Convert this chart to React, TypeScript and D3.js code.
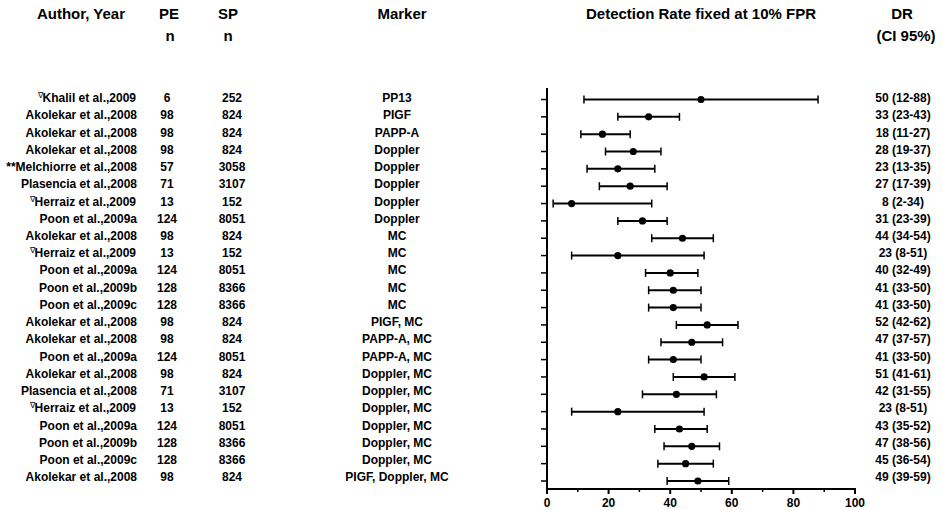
import React from "react";
import * as d3 from "d3";

const authors = [
  "Khalil et al.,2009", "Akolekar et al.,2008", "Akolekar et al.,2008", "Akolekar et al.,2008",
  "Melchiorre et al.,2008", "Plasencia et al.,2008", "Herraiz et al.,2009", "Poon et al.,2009a",
  "Akolekar et al.,2008", "Herraiz et al.,2009", "Poon et al.,2009a", "Poon et al.,2009b",
  "Poon et al.,2009c", "Akolekar et al.,2008", "Akolekar et al.,2008", "Poon et al.,2009a",
  "Akolekar et al.,2008", "Plasencia et al.,2008", "Herraiz et al.,2009", "Poon et al.,2009a",
  "Poon et al.,2009b", "Poon et al.,2009c", "Akolekar et al.,2008",
];
const prefixes = [
  "∇", "", "", "", "**", "", "∇", "", "", "∇", "", "", "", "", "", "", "", "", "∇", "", "", "", "",
];
const peN = [6, 98, 98, 98, 57, 71, 13, 124, 98, 13, 124, 128, 128, 98, 98, 124, 98, 71, 13, 124, 128, 128, 98];
const spN = [252, 824, 824, 824, 3058, 3107, 152, 8051, 824, 152, 8051, 8366, 8366, 824, 824, 8051, 824, 3107, 152, 8051, 8366, 8366, 824];
const markers = [
  "PP13", "PIGF", "PAPP-A", "Doppler", "Doppler", "Doppler", "Doppler", "Doppler",
  "MC", "MC", "MC", "MC", "MC", "PIGF, MC", "PAPP-A, MC", "PAPP-A, MC",
  "Doppler, MC", "Doppler, MC", "Doppler, MC", "Doppler, MC", "Doppler, MC", "Doppler, MC",
  "PIGF, Doppler, MC",
];
const dr = [50, 33, 18, 28, 23, 27, 8, 31, 44, 23, 40, 41, 41, 52, 47, 41, 51, 42, 23, 43, 47, 45, 49];
const lo = [12, 23, 11, 19, 13, 17, 2, 23, 34, 8, 32, 33, 33, 42, 37, 33, 41, 31, 8, 35, 38, 36, 39];
const hi = [88, 43, 27, 37, 35, 39, 34, 39, 54, 51, 49, 50, 50, 62, 57, 50, 61, 55, 51, 52, 56, 54, 59];
const xTicks = [0, 20, 40, 60, 80, 100];
const xMinorTicks = [10, 30, 50, 70, 90];

const FONT = "'Liberation Sans', Arial, Helvetica, sans-serif";

export default function App() {
  const idx = d3.range(dr.length);
  const x = d3.scaleLinear().domain([0, 100]).range([547, 855]);
  const y = d3.scalePoint<number>().domain(idx).range([99.5, 481]);
  const ty = d3.scalePoint<number>().domain(idx).range([98, 477]);
  const axisY = 489;
  const axisTop = 88;
  const base = (i: number) => (ty(i) as number) + 4.2;

  return (
    <svg
      width={943}
      height={510}
      style={{ position: "absolute", left: 0, top: 0, background: "#fff" }}
      fontFamily={FONT}
      fontWeight="bold"
    >
      {/* headers */}
      <g fontSize={15} textAnchor="middle" fill="#000">
        <text x={81} y={19}>Author, Year</text>
        <text x={169} y={19}>PE</text>
        <text x={170} y={41}>n</text>
        <text x={228} y={19}>SP</text>
        <text x={228} y={41}>n</text>
        <text x={402} y={19}>Marker</text>
        <text x={701} y={19}>Detection Rate fixed at 10% FPR</text>
        <text x={902} y={19}>DR</text>
        <text x={906} y={41}>(CI 95%)</text>
      </g>

      {/* table text */}
      <g fontSize={12} fill="#000">
        {idx.map((i) => (
          <g key={i}>
            {prefixes[i] === "∇" ? (
              <text x={136} y={base(i)} textAnchor="end">
                <tspan fontSize={8} fontWeight="normal" dy={-4}>∇</tspan>
                <tspan dy={4}>{authors[i]}</tspan>
              </text>
            ) : (
              <text x={137} y={base(i)} textAnchor="end">
                {prefixes[i] + authors[i]}
              </text>
            )}
            <text x={167} y={base(i)} textAnchor="middle">{peN[i]}</text>
            <text x={232} y={base(i)} textAnchor="middle">{spN[i]}</text>
            <text x={397} y={base(i)} textAnchor="middle">{markers[i]}</text>
            <text x={903} y={base(i)} textAnchor="middle">
              {`${dr[i]} (${lo[i]}-${hi[i]})`}
            </text>
          </g>
        ))}
      </g>

      {/* axes */}
      <g stroke="#000" fill="none">
        <line x1={x(0)} x2={x(0)} y1={axisTop} y2={axisY + 1} strokeWidth={2} />
        <line x1={x(0) - 1} x2={x(100) + 1} y1={axisY} y2={axisY} strokeWidth={2} />
        {idx.map((i) => (
          <line key={i} x1={x(0) - 6} x2={x(0)} y1={y(i)} y2={y(i)} strokeWidth={1.5} />
        ))}
        {xTicks.map((t) => (
          <line key={t} x1={x(t)} x2={x(t)} y1={axisY} y2={axisY + 5} strokeWidth={2} />
        ))}
        {xMinorTicks.map((t) => (
          <line key={t} x1={x(t)} x2={x(t)} y1={axisY} y2={axisY + 3} strokeWidth={1.5} />
        ))}
      </g>
      <g fontSize={12} textAnchor="middle" fill="#000">
        {xTicks.map((t) => (
          <text key={t} x={x(t)} y={507}>{t}</text>
        ))}
      </g>

      {/* error bars */}
      <g stroke="#000" strokeWidth={2}>
        {idx.map((i) => (
          <g key={i}>
            <line x1={x(lo[i])} x2={x(hi[i])} y1={y(i)} y2={y(i)} />
            <line x1={x(lo[i])} x2={x(lo[i])} y1={(y(i) as number) - 4} y2={(y(i) as number) + 4} strokeWidth={1.5} />
            <line x1={x(hi[i])} x2={x(hi[i])} y1={(y(i) as number) - 4} y2={(y(i) as number) + 4} strokeWidth={1.5} />
            <circle cx={x(dr[i])} cy={y(i)} r={3.6} fill="#000" stroke="none" />
          </g>
        ))}
      </g>
    </svg>
  );
}
